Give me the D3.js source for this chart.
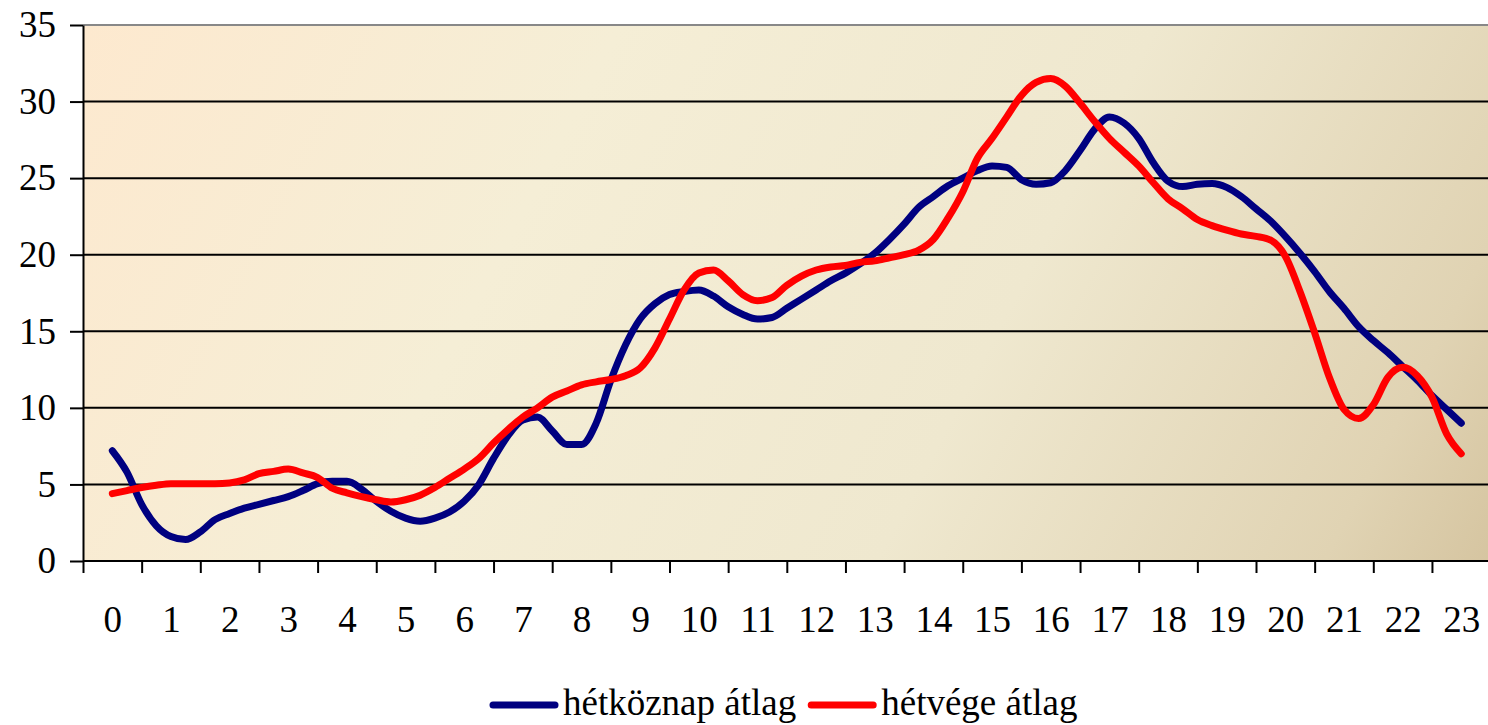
<!DOCTYPE html>
<html>
<head>
<meta charset="utf-8">
<script src="https://cdn.jsdelivr.net/npm/d3@7"></script>
<style>
  html, body { margin: 0; padding: 0; background: #fff; }
  svg { display: block; }
  text { font-family: "Liberation Serif", "Times New Roman", serif; fill: #000; }
</style>
</head>
<body>
<svg id="chart"></svg>
<script>
// quarter-hour averages, hour 0 .. 23
const hourLabels = d3.range(0, 24).map(String);
const yTicks = [0, 5, 10, 15, 20, 25, 30, 35];

const weekdayAvg = [
  7.2, 5.8, 3.7, 2.3,
  1.6, 1.4, 1.9, 2.7,
  3.1, 3.45, 3.7, 3.95,
  4.2, 4.6, 5.05, 5.2,
  5.2, 4.7, 3.9, 3.25,
  2.8, 2.6, 2.8, 3.2,
  3.9, 5.0, 6.7, 8.2,
  9.2, 9.4, 8.5, 7.6,
  7.6, 9.0, 11.8, 14.1,
  15.8, 16.8, 17.4, 17.6,
  17.7, 17.3, 16.6, 16.1,
  15.8, 15.9, 16.5, 17.1,
  17.7, 18.3, 18.8, 19.4,
  20.1, 21.0, 22.0, 23.1,
  23.8, 24.5, 25.0, 25.5,
  25.8, 25.7, 24.9, 24.6,
  24.7, 25.5, 26.8, 28.2,
  29.0, 28.6, 27.6, 26.0,
  24.8, 24.45, 24.6, 24.65,
  24.4, 23.8, 23.0, 22.2,
  21.2, 20.1, 18.9, 17.6,
  16.5, 15.3, 14.4, 13.6,
  12.7, 11.8, 10.8, 9.9,
  9.0
];

const weekendAvg = [
  4.4, 4.6, 4.8, 4.95,
  5.05, 5.05, 5.05, 5.05,
  5.1, 5.3, 5.7, 5.85,
  6.0, 5.75, 5.45, 4.75,
  4.45, 4.2, 4.0, 3.85,
  4.0, 4.3, 4.8, 5.4,
  6.0, 6.7, 7.7, 8.6,
  9.4, 10.0, 10.7, 11.1,
  11.5, 11.7, 11.85, 12.1,
  12.6, 13.9, 15.8, 17.7,
  18.8, 19.0, 18.3, 17.4,
  17.0, 17.2, 18.0, 18.6,
  19.0, 19.2, 19.3, 19.5,
  19.6, 19.8, 20.0, 20.3,
  21.0, 22.4, 24.1, 26.3,
  27.6, 29.0, 30.4, 31.25,
  31.5, 31.0, 29.9, 28.7,
  27.6, 26.7, 25.8, 24.7,
  23.65, 23.0, 22.3, 21.9,
  21.6, 21.35, 21.2, 20.95,
  19.9, 17.6, 14.9, 12.0,
  9.9, 9.3, 10.2, 12.0,
  12.65, 12.1, 10.7, 8.3,
  7.0
];

const seriesNames = ['hétköznap átlag', 'hétvége átlag'];
const seriesColors = ['#000080', '#ff0000'];

const width = 1488;
const height = 725;
const margin = { top: 25, right: 0, bottom: 164, left: 83 };
const plotW = width - margin.left - margin.right;
const plotH = height - margin.top - margin.bottom;
const fontSize = 37;

const svg = d3.select('#chart').attr('width', width).attr('height', height);

const defs = svg.append('defs');
const grad = defs.append('linearGradient')
  .attr('id', 'bg')
  .attr('gradientUnits', 'userSpaceOnUse')
  .attr('x1', margin.left).attr('y1', margin.top)
  .attr('x2', width).attr('y2', margin.top + plotH + 200);
grad.append('stop').attr('offset', 0).attr('stop-color', '#fde9cf');
grad.append('stop').attr('offset', 0.3).attr('stop-color', '#f5eed6');
grad.append('stop').attr('offset', 0.6).attr('stop-color', '#efe8cf');
grad.append('stop').attr('offset', 0.85).attr('stop-color', '#e0d3b3');
grad.append('stop').attr('offset', 1).attr('stop-color', '#cfbc95');

const x = d3.scaleLinear().domain([-0.5, 23.5]).range([margin.left, margin.left + 24 * 58.65]);
const y = d3.scaleLinear().domain([0, 35]).range([margin.top + plotH, margin.top]);

svg.append('rect')
  .attr('x', margin.left).attr('y', margin.top)
  .attr('width', plotW).attr('height', plotH)
  .attr('fill', 'url(#bg)');

// gridlines
svg.append('g')
  .selectAll('line')
  .data(yTicks.filter((d) => d > 0))
  .join('line')
  .attr('x1', margin.left).attr('x2', width)
  .attr('y1', (d) => y(d)).attr('y2', (d) => y(d))
  .attr('stroke', (d) => (d === 35 ? '#888' : '#000'))
  .attr('stroke-width', 2);

// y axis
const yAxis = d3.axisLeft(y).tickValues(yTicks).tickSize(13).tickPadding(14).tickSizeOuter(0);
const yAxisG = svg.append('g').attr('transform', `translate(${margin.left},0)`).call(yAxis);
yAxisG.select('.domain').attr('stroke', '#000').attr('stroke-width', 2);
yAxisG.selectAll('.tick line').attr('stroke', '#000').attr('stroke-width', 2);
yAxisG.selectAll('.tick text').attr('font-size', fontSize).attr('font-family', '"Liberation Serif", serif').attr('fill', '#000');

// x axis: ticks between categories, labels centred
const xTickVals = d3.range(0, 25).map((k) => k - 0.5);
const xAxisTicks = d3.axisBottom(x).tickValues(xTickVals).tickSize(12).tickFormat('').tickSizeOuter(0);
const xg = svg.append('g').attr('transform', `translate(0,${margin.top + plotH})`).call(xAxisTicks);
xg.select('.domain').attr('d', `M${margin.left},0H${width}`).attr('stroke', '#000').attr('stroke-width', 2);
xg.selectAll('.tick line').attr('stroke', '#000').attr('stroke-width', 2);

const xLabelAxis = d3.axisBottom(x)
  .tickValues(d3.range(0, 24))
  .tickFormat((d) => hourLabels[d])
  .tickSize(0).tickPadding(45);
const xl = svg.append('g').attr('transform', `translate(0,${margin.top + plotH})`).call(xLabelAxis);
xl.select('.domain').remove();
xl.selectAll('.tick text').attr('font-size', fontSize).attr('font-family', '"Liberation Serif", serif').attr('fill', '#000');

// lines
const line = d3.line()
  .x((d, i) => x(i / 4))
  .y((d) => y(d))
  .curve(d3.curveMonotoneX);

[weekdayAvg, weekendAvg].forEach((values, i) => {
  svg.append('path')
    .datum(values)
    .attr('d', line)
    .attr('fill', 'none')
    .attr('stroke', seriesColors[i])
    .attr('stroke-width', 7)
    .attr('stroke-linecap', 'round')
    .attr('stroke-linejoin', 'round');
});

// legend
const legend = svg.append('g').attr('transform', 'translate(493,705)');
let lx = 0;
seriesNames.forEach((name, i) => {
  legend.append('line')
    .attr('x1', lx).attr('x2', lx + 62)
    .attr('y1', 0).attr('y2', 0)
    .attr('stroke', seriesColors[i])
    .attr('stroke-width', 7)
    .attr('stroke-linecap', 'round');
  const t = legend.append('text')
    .attr('x', lx + 70).attr('y', 10)
    .attr('font-size', 37)
    .text(name);
  lx += 70 + t.node().getComputedTextLength() + 15;
});
</script>
</body>
</html>
